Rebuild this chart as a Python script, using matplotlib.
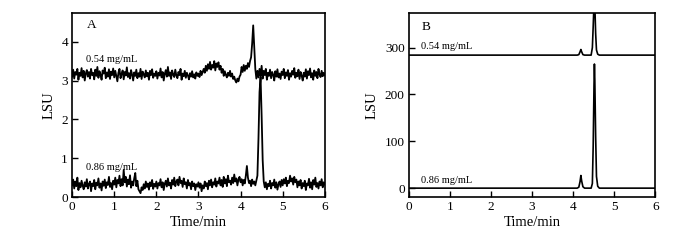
import numpy as np
import matplotlib
matplotlib.use("Agg")
import matplotlib.pyplot as plt

plt.rcParams['font.family'] = ['Liberation Serif', 'DejaVu Serif']

# ---------------- Panel A data (step 0.025 min) ----------------
time_a_step = 0.025
lsu_a_054 = [
    3.10, 3.28, 3.05, 3.22, 3.15, 3.30, 3.02, 3.20, 3.12, 3.32, 3.08, 3.25, 3.00, 3.18, 3.27, 3.10, 3.22, 3.05, 3.30, 3.14,
    3.20, 3.03, 3.28, 3.12, 3.35, 3.07, 3.24, 3.15, 3.02, 3.26, 3.18, 3.33, 3.06, 3.21, 3.10, 3.29, 3.04, 3.23, 3.14, 3.31,
    3.08, 3.25, 3.12, 2.98, 3.20, 3.30, 3.06, 3.17, 3.26, 3.03, 3.22, 3.13, 3.34, 3.09, 3.19, 3.05, 3.27, 3.15, 3.00, 3.21,
    3.12, 3.28, 3.06, 3.19, 3.10, 3.30, 3.04, 3.23, 3.16, 3.08, 3.26, 3.11, 3.20, 3.02, 3.25, 3.14, 3.29, 3.07, 3.18, 3.12,
    3.24, 3.05, 3.20, 3.13, 3.31, 3.08, 3.22, 3.00, 3.17, 3.27, 3.10, 3.35, 3.12, 3.21, 3.04, 3.26, 3.15, 3.09, 3.28, 3.13,
    3.06, 3.22, 3.14, 3.30, 3.02, 3.18, 3.11, 3.25, 3.07, 3.20, 3.13, 3.03, 3.19, 3.10, 3.24, 3.08, 3.16, 3.05, 3.21, 3.12,
    3.18, 3.09, 3.25, 3.14, 3.22, 3.30, 3.20, 3.38, 3.25, 3.42, 3.30, 3.48, 3.28, 3.40, 3.33, 3.50, 3.26, 3.44, 3.35, 3.47,
    3.28, 3.38, 3.20, 3.30, 3.12, 3.24, 3.15, 3.08, 3.20, 3.12, 3.25, 3.10, 3.18, 3.04, 3.10, 3.00, 2.95, 3.05, 2.98, 3.10,
    3.15, 3.35, 3.22, 3.40, 3.25, 3.38, 3.30, 3.45, 3.35, 3.50, 3.60, 3.95, 4.42, 3.85, 3.30, 3.05, 3.25, 3.08, 3.30, 3.12,
    3.38, 3.05, 3.25, 3.14, 3.30, 3.02, 3.20, 3.12, 3.28, 3.06, 3.22, 3.15, 3.00, 3.24, 3.10, 3.29, 3.08, 3.18, 3.04, 3.23,
    3.14, 3.30, 3.06, 3.21, 3.12, 3.27, 3.02, 3.19, 3.10, 3.25, 3.15, 3.32, 3.07, 3.20, 3.11, 3.28, 3.04, 3.22, 3.13, 3.00,
    3.20, 3.10, 3.29, 3.05, 3.24, 3.14, 3.31, 3.08, 3.19, 3.02, 3.26, 3.12, 3.22, 3.06, 3.30, 3.15, 3.09, 3.25, 3.11, 3.20,
    3.14,
]
lsu_a_086 = [
    0.30, 0.45, 0.22, 0.40, 0.28, 0.50, 0.18, 0.36, 0.25, 0.42, 0.30, 0.20, 0.38, 0.27, 0.46, 0.22, 0.33, 0.40, 0.15, 0.35,
    0.28, 0.44, 0.20, 0.37, 0.30, 0.48, 0.24, 0.35, 0.17, 0.40, 0.29, 0.45, 0.23, 0.38, 0.31, 0.52, 0.26, 0.36, 0.20, 0.42,
    0.32, 0.50, 0.25, 0.44, 0.35, 0.55, 0.28, 0.46, 0.30, 0.70, 0.38, 0.52, 0.27, 0.45, 0.33, 0.56, 0.24, 0.40, 0.30, 0.48,
    0.62, 0.28, 0.42, 0.20, 0.15, 0.10, 0.25, 0.18, 0.33, 0.22, 0.40, 0.26, 0.35, 0.19, 0.38, 0.28, 0.44, 0.21, 0.34, 0.27,
    0.40, 0.22, 0.36, 0.30, 0.46, 0.25, 0.38, 0.18, 0.34, 0.42, 0.27, 0.48, 0.30, 0.37, 0.22, 0.44, 0.32, 0.50, 0.28, 0.40,
    0.45, 0.30, 0.52, 0.36, 0.42, 0.26, 0.48, 0.33, 0.38, 0.22, 0.44, 0.30, 0.36, 0.20, 0.40, 0.28, 0.35, 0.18, 0.33, 0.27,
    0.38, 0.24, 0.35, 0.15, 0.30, 0.22, 0.40, 0.28, 0.36, 0.20, 0.42, 0.30, 0.45, 0.25, 0.38, 0.32, 0.48, 0.27, 0.40, 0.35,
    0.50, 0.30, 0.44, 0.26, 0.52, 0.35, 0.46, 0.28, 0.55, 0.38, 0.42, 0.32, 0.50, 0.36, 0.58, 0.40, 0.48, 0.30, 0.45, 0.52,
    0.38, 0.46, 0.30, 0.44, 0.35, 0.55, 0.80, 0.50, 0.36, 0.42, 0.28, 0.45, 0.34, 0.40, 0.30, 0.42, 0.55, 1.50, 2.70, 3.10,
    2.10, 0.95, 0.40, 0.25, 0.38, 0.20, 0.34, 0.28, 0.42, 0.22, 0.36, 0.30, 0.45, 0.24, 0.38, 0.19, 0.33, 0.40, 0.26, 0.44,
    0.30, 0.46, 0.35, 0.50, 0.28, 0.42, 0.36, 0.55, 0.40, 0.48, 0.32, 0.52, 0.38, 0.45, 0.25, 0.40, 0.30, 0.44, 0.22, 0.36,
    0.28, 0.42, 0.18, 0.35, 0.30, 0.47, 0.24, 0.38, 0.20, 0.44, 0.32, 0.50, 0.26, 0.36, 0.22, 0.40, 0.30, 0.46, 0.25, 0.38,
    0.32,
]

# ---------------- Panel B data ----------------
time_b_054 = [0, 4.10, 4.14, 4.17, 4.19, 4.21, 4.24, 4.28, 4.44, 4.47, 4.49, 4.51, 4.52, 4.53, 4.55, 4.57, 4.60, 4.64, 6.0]
lsu_b_054 = [284, 284, 285, 291, 296, 291, 285, 284, 284, 300, 345, 395, 410, 390, 330, 295, 286, 284, 284]
time_b_086 = [0, 4.10, 4.14, 4.17, 4.19, 4.21, 4.24, 4.28, 4.44, 4.47, 4.49, 4.51, 4.52, 4.53, 4.55, 4.57, 4.60, 4.64, 6.0]
lsu_b_086 = [0, 0, 2, 14, 27, 15, 3, 0, 0, 10, 90, 220, 265, 230, 110, 25, 4, 0, 0]

labels = ["0.54 mg/mL", "0.86 mg/mL"]
x_ticks = [0, 1, 2, 3, 4, 5, 6]
y_ticks_a = [0, 1, 2, 3, 4]
y_ticks_b = [0, 100, 200, 300]

fig = plt.figure(figsize=(7, 2.4), dpi=100)
axA = fig.add_axes([0.103, 0.179, 0.361, 0.767])
axB = fig.add_axes([0.584, 0.179, 0.352, 0.767])

t_a = np.arange(len(lsu_a_054)) * time_a_step
axA.plot(t_a, lsu_a_054, color='black', lw=1.3)
axA.plot(t_a, lsu_a_086, color='black', lw=1.3)
axA.set_xlim(0, 6)
axA.set_ylim(0, 4.74)
axA.set_yticks(y_ticks_a)
axA.text(0.33, 3.48, labels[0], fontsize=7.5)
axA.text(0.33, 0.70, labels[1], fontsize=7.5)
axA.text(0.35, 4.35, "A", fontsize=9.5)

axB.plot(time_b_054, lsu_b_054, color='black', lw=1.2)
axB.plot(time_b_086, lsu_b_086, color='black', lw=1.2)
axB.set_xlim(0, 6)
axB.set_ylim(-19, 374)
axB.set_yticks(y_ticks_b)
axB.text(0.3, 298, labels[0], fontsize=7.5)
axB.text(0.3, 10, labels[1], fontsize=7.5)
axB.text(0.3, 338, "B", fontsize=9.5)

for ax in (axA, axB):
    ax.set_xticks(x_ticks)
    ax.tick_params(direction='in', length=4, width=1, labelsize=9.5, pad=3)
    for s in ax.spines.values():
        s.set_linewidth(1.2)
    ax.set_xlabel("Time/min", fontsize=10.5, labelpad=2)
    ax.set_ylabel("LSU", fontsize=10.5)

fig.savefig("out.png", dpi=100)
